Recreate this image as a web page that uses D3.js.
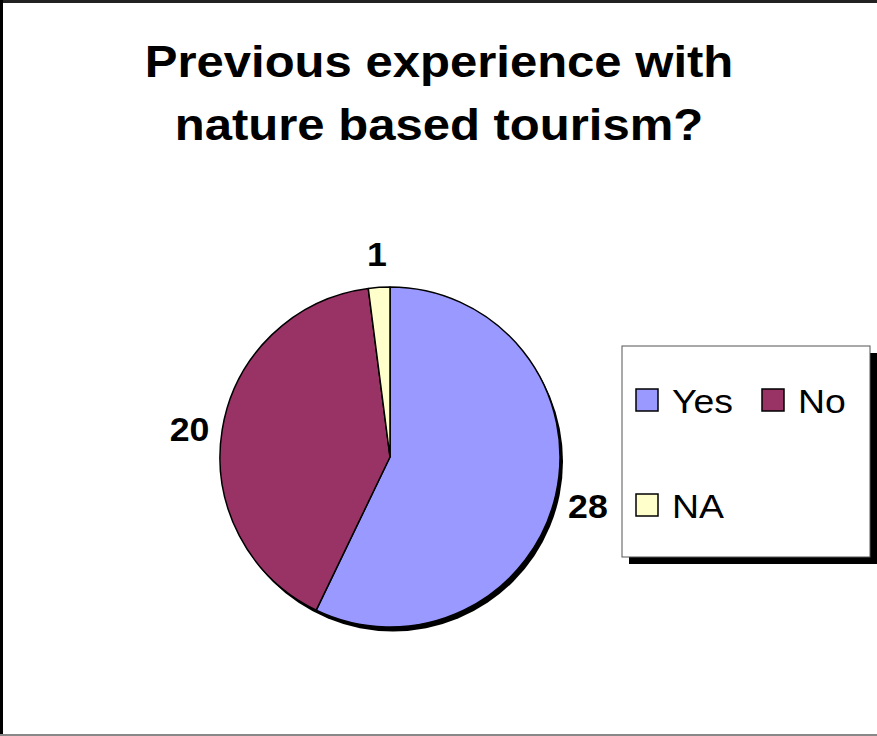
<!DOCTYPE html>
<html>
<head>
<meta charset="utf-8">
<script src="https://cdn.jsdelivr.net/npm/d3@7/dist/d3.min.js"></script>
<style>
  html, body { margin: 0; padding: 0; background: #fff; }
  svg { display: block; }
</style>
</head>
<body>
<script>
// Survey answers
const categories = ["Yes", "No", "NA"];
const counts = [28, 20, 1];
const sliceColors = ["#9999FF", "#993366", "#FFFFCC"];
const titleLines = ["Previous experience with", "nature based tourism?"];

const W = 877, H = 736;
const FONT = "Arial, 'Liberation Sans', sans-serif";
const svg = d3.select("body").append("svg").attr("width", W).attr("height", H);

// frame
svg.append("rect").attr("x", 0).attr("y", 0).attr("width", W).attr("height", H).attr("fill", "#fff");
svg.append("line").attr("x1", 0).attr("x2", W).attr("y1", 1.5).attr("y2", 1.5).attr("stroke", "#222").attr("stroke-width", 3);
svg.append("line").attr("x1", 1.5).attr("x2", 1.5).attr("y1", 0).attr("y2", H).attr("stroke", "#000").attr("stroke-width", 3);
svg.append("line").attr("x1", 0).attr("x2", W).attr("y1", 735).attr("y2", 735).attr("stroke", "#888").attr("stroke-width", 2);

// title (slightly wide face)
const title = svg.append("g").attr("transform", "translate(439,0) scale(1.09,1)")
  .append("text")
  .attr("text-anchor", "middle")
  .attr("font-family", FONT)
  .attr("font-weight", "bold")
  .attr("font-size", 45)
  .attr("fill", "#000");
title.selectAll("tspan").data(titleLines).join("tspan")
  .attr("x", 0)
  .attr("y", (d, i) => 77 + i * 63)
  .text(d => d);

// pie
const cx = 390, cy = 457, R = 170;
const pie = d3.pie().sort(null).value(d => d)(counts);
const arc = d3.arc().innerRadius(0).outerRadius(R);

const g = svg.append("g").attr("transform", `translate(${cx},${cy})`);
// drop shadow
g.append("circle").attr("cx", 3).attr("cy", 4.5).attr("r", R).attr("fill", "#000");
g.selectAll("path.slice").data(pie).join("path")
  .attr("class", "slice")
  .attr("d", arc)
  .attr("fill", (d, i) => sliceColors[i])
  .attr("stroke", "#000")
  .attr("stroke-width", 1.5)
  .attr("stroke-linejoin", "round");

// value labels outside the pie
const labelArc = d3.arc().innerRadius(R + 33).outerRadius(R + 33);
g.selectAll("g.val").data(pie).join("g")
  .attr("class", "val")
  .attr("transform", d => {
    const [x, y] = labelArc.centroid(d);
    return `translate(${x},${y}) scale(1.05,1)`;
  })
  .append("text")
  .attr("text-anchor", "middle")
  .attr("dy", d => {
    const mid = (d.startAngle + d.endAngle) / 2;
    return (0.34 + 0.14 * Math.abs(Math.sin(mid))) + "em";
  })
  .attr("font-family", FONT)
  .attr("font-weight", "bold")
  .attr("font-size", 34)
  .attr("fill", "#000")
  .text(d => d.data);

// legend
const lx = 622, ly = 346, lw = 248, lh = 211;
svg.append("rect").attr("x", lx + 7).attr("y", ly + 7).attr("width", lw).attr("height", lh).attr("fill", "#000");
svg.append("rect").attr("x", lx).attr("y", ly).attr("width", lw).attr("height", lh)
  .attr("fill", "#fff").attr("stroke", "#555").attr("stroke-width", 1);

const legendPos = [
  { x: 636, y: 389 },
  { x: 762, y: 389 },
  { x: 636, y: 494 }
];
const items = svg.selectAll("g.leg").data(categories).join("g")
  .attr("class", "leg")
  .attr("transform", (d, i) => `translate(${legendPos[i].x},${legendPos[i].y})`);
items.append("rect")
  .attr("width", 22).attr("height", 22)
  .attr("fill", (d, i) => sliceColors[i])
  .attr("stroke", "#000").attr("stroke-width", 1.5);
items.append("g").attr("transform", "translate(36,24) scale(1.1,1)")
  .append("text")
  .attr("font-family", FONT)
  .attr("font-size", 34)
  .attr("fill", "#000")
  .text(d => d);
</script>
</body>
</html>
